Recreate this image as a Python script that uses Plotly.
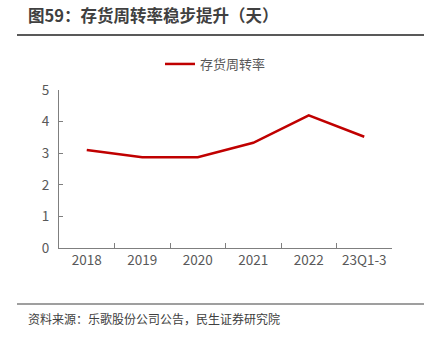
import plotly.graph_objects as go

categories = ["2018", "2019", "2020", "2021", "2022", "23Q1-3"]
turnover = [3.10, 2.87, 2.87, 3.33, 4.20, 3.52]
series_name = "存货周转率"
title_text = "图59：存货周转率稳步提升（天）"
source_text = "资料来源：乐歌股份公司公告，民生证券研究院"

W, H = 439, 339
L, R, T, B = 59, 47, 90, 91
pw, ph = W - L - R, H - T - B

def px_x(x):
    return (x - L) / pw

def px_y(y):
    return (H - B - y) / ph

font = "Noto Sans CJK SC, Microsoft YaHei, sans-serif"
axis_col = "#7f7f7f"
txt_col = "#595959"

fig = go.Figure()
fig.add_trace(go.Scatter(
    x=categories, y=turnover, mode="lines", name=series_name,
    line=dict(color="#c00000", width=2.5),
))

fig.update_layout(
    width=W, height=H,
    margin=dict(l=L, r=R, t=T, b=B),
    paper_bgcolor="white", plot_bgcolor="white",
    font=dict(family=font, size=13, color=txt_col),
    showlegend=True,
    legend=dict(orientation="h", x=0.47, xanchor="center", y=px_y(64), yanchor="middle",
                font=dict(size=13, color=txt_col), bgcolor="rgba(0,0,0,0)"),
    xaxis=dict(type="category", range=[-0.5, 5.5], tickson="boundaries",
               ticks="inside", ticklen=5, tickcolor=axis_col,
               showline=True, linecolor=axis_col, linewidth=1,
               showgrid=False, zeroline=False, tickfont=dict(size=13.5, color=txt_col)),
    yaxis=dict(range=[0, 5], dtick=1, ticks="inside", ticklen=4, tickcolor=axis_col,
               showline=True, linecolor=axis_col, linewidth=1, ticklabelstandoff=6,
               showgrid=False, zeroline=False, tickfont=dict(size=13.5, color=txt_col)),
    annotations=[
        dict(text="<b>" + title_text + "</b>", xref="paper", yref="paper",
             x=px_x(26), y=px_y(15), xanchor="left", yanchor="middle", showarrow=False,
             font=dict(size=16.5, color="#404040", family=font)),
        dict(text=source_text, xref="paper", yref="paper",
             x=px_x(26), y=px_y(318), xanchor="left", yanchor="middle", showarrow=False,
             font=dict(size=12, color="#404040", family=font)),
    ],
    shapes=[
        dict(type="line", xref="paper", yref="paper", x0=px_x(17), x1=px_x(424),
             y0=px_y(35), y1=px_y(35), line=dict(color="#595959", width=2)),
        dict(type="line", xref="paper", yref="paper", x0=px_x(17), x1=px_x(424),
             y0=px_y(304), y1=px_y(304), line=dict(color="#7f7f7f", width=1.5)),
    ],
)

fig.write_html("out.html")
